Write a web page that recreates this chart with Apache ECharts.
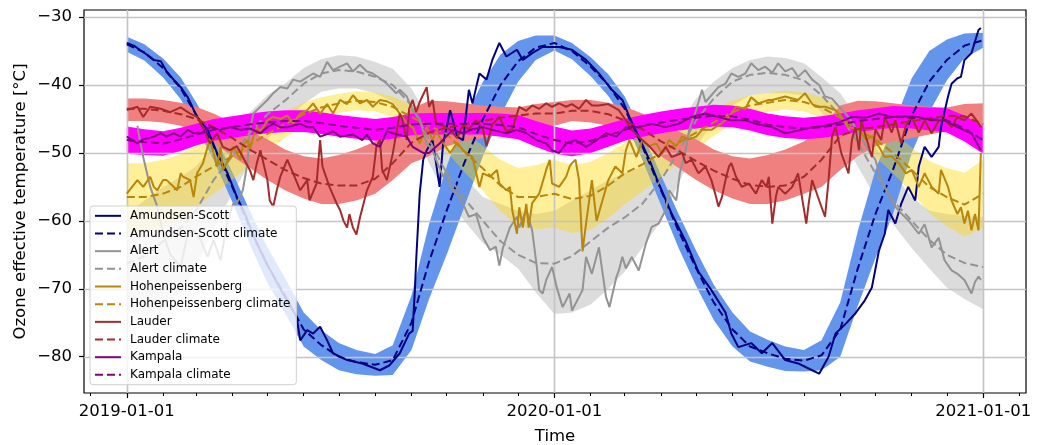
<!DOCTYPE html>
<html>
<head>
<meta charset="utf-8">
<script src="https://cdn.jsdelivr.net/npm/echarts@6/dist/echarts.min.js"></script>
<style>
  html, body { margin: 0; padding: 0; background: #fff; }
  #chart { width: 1037px; height: 445px; }
</style>
</head>
<body>
<div id="chart"></div>
<script>
// climate curves are read every half month; observations at their own days (days since 2019-01-01)
function monthDays(days) {
  const out = [];
  for (const y of [2019, 2020]) {
    for (let m = 1; m <= 12; m++) {
      for (const d of days) out.push(y + '-' + String(m).padStart(2, '0') + '-' + String(d).padStart(2, '0'));
    }
  }
  out.push('2021-01-01');
  return out;
}
const climDates = monthDays([1, 16]);
const yearTicks = ['2019-01-01', '2020-01-01', '2021-01-01'];
const yTicks = [-80, -70, -60, -50, -40, -30];

// Amundsen-Scott
const amundsenDays = [0, 6, 11, 17, 23, 29, 34, 40, 46, 52, 60, 69, 77, 86, 94, 101, 110, 120, 131, 145,
  148, 154, 159, 165, 171, 176, 188, 201, 216, 224, 233, 241, 244, 246, 247, 250, 253, 256, 261, 267,
  270, 276, 282, 287, 292, 295, 301, 307, 312, 318, 324, 333, 338, 346, 355, 363,
  369, 380, 392, 403, 414, 423, 429, 437, 446, 454, 465, 477, 488, 499, 511, 516, 522, 533, 542, 551,
  562, 573, 585, 591, 599, 605, 614, 622, 630, 636, 642, 647, 650, 656, 661, 667, 673, 676, 681, 687,
  693, 695, 701, 704, 709, 712, 715, 721, 727, 729];
const amundsenObs = [-33.8, -34.2, -34.8, -35.5, -36.3, -36.5, -38, -39.2, -40.3, -41.8, -44.7, -46.6, -50, -53, -56.5, -59, -63, -66.5, -70, -74.2,
  -77.6, -76.1, -76.6, -75.6, -77.6, -79.5, -80.5, -81, -82, -81.3, -79.5, -76.6, -76.2, -69.8, -65.8, -56, -51, -49.6, -48.1, -55,
  -48.6, -43.7, -47.6, -48.1, -40.7, -42.7, -38.3, -39.2, -36.3, -33.8, -35.8, -34.8, -36.3, -35.3, -34.4, -34.4,
  -34.4, -34.8, -36.3, -38.3, -40.7, -42.2, -44.7, -47.6, -51, -54.5, -58.9, -63, -67.5, -70.2, -73.5, -76.6, -78.6, -78, -79.5, -78,
  -80.5, -81, -82, -82.5, -80, -76.6, -75.1, -73.6, -71.7, -69.8, -64.4, -61.9, -58.4, -60.4, -57.5, -55, -57, -52, -49.1, -50.6,
  -49.1, -46.2, -41.7, -39.8, -39, -38.8, -36.3, -35.3, -31.9, -31.6];
const amundsenClim = [-34, -35.2, -37.5, -40.5, -44.3, -49, -55, -61, -66.5, -71, -76, -78.3, -80, -80.8, -81.2, -80.5, -75, -66, -58.5, -51.5, -45, -40, -36.5, -34.5,
  -33.8, -35, -37.3, -40, -43.5, -49, -55.5, -61.5, -67, -72, -76, -78.5, -79.5, -80.3, -80.6, -79.8, -76, -67, -59, -52.5, -44.5, -39.5, -36.3, -34.2,
  -33.4];
const amundsenHi = [-32.9, -34.0, -36.1, -38.9, -42.5, -47.0, -52.8, -58.5, -63.9, -68.4, -73.5, -76.1, -78.0, -79.0, -79.6, -78.3, -71.0, -60.5, -52.0, -45.0, -39.5, -35.5, -33.5, -32.7,
  -32.7, -33.8, -35.9, -38.4, -41.7, -47.0, -53.3, -59.0, -64.4, -69.4, -73.5, -76.3, -77.5, -78.5, -79.0, -77.6, -72.0, -61.5, -52.5, -46.0, -39.0, -35.0, -33.3, -32.4,
  -32.3];
const amundsenLo = [-35.1, -36.4, -38.9, -42.1, -46.1, -51.0, -57.2, -63.5, -69.1, -73.6, -78.5, -80.5, -82.0, -82.6, -82.8, -82.7, -79.0, -71.5, -65.0, -58.0, -50.5, -44.5, -39.5, -36.3,
  -34.9, -36.2, -38.7, -41.6, -45.3, -51.0, -57.7, -64.0, -69.6, -74.6, -78.5, -80.7, -81.5, -82.1, -82.2, -82.0, -80.0, -72.5, -65.5, -59.0, -50.0, -44.0, -39.3, -36.0,
  -34.5];

// Alert
const alertDays = [9, 11, 14, 20, 26, 31, 37, 46, 52, 57, 63, 69, 74, 80, 86, 91, 94, 99, 103, 105,
  108, 114, 120, 125, 131, 137, 142, 148, 159, 165, 171, 176, 182, 188, 193, 199, 205, 210, 216, 222,
  230, 233, 239, 244, 250, 256, 261, 264, 270, 273, 276, 282, 287, 292, 298, 304, 310, 315, 318, 321,
  327, 333, 335, 341, 346, 350, 352, 355, 358, 363,
  367, 372, 378, 380, 389, 392, 397, 403, 409, 412, 418, 420, 423, 426, 431, 437, 443, 448, 454, 460,
  463, 469, 472, 477, 480, 486, 491, 494, 499, 505, 511, 516, 522, 528, 533, 539, 545, 551, 556, 562,
  568, 573, 579, 585, 591, 596, 602, 608, 616, 625, 633, 639, 644, 650, 656, 661, 667, 676, 681, 687,
  693, 698, 704, 709, 715, 721, 724, 727, 729];
const alertObs = [-46, -48, -50.6, -55, -57.9, -61.9, -64.9, -66.8, -61.9, -61.4, -62.8, -65.3, -62.8, -65.8, -60, -57.4, -57.4, -55.5, -51.5, -46.6,
  -44.2, -43.2, -42.2, -41.2, -40.3, -40.5, -39.2, -39.5, -38.3, -38.8, -36.6, -37.8, -37.3, -36.8, -38, -37, -38, -38.3, -39, -39.8,
  -41.2, -40.7, -41.7, -43.7, -45, -48.6, -49.6, -51, -53.5, -52.5, -55, -56, -57.5, -59.4, -59, -62.4, -64.3, -63.8, -66.6, -64,
  -61, -59.4, -61, -58.4, -61.4, -66.8, -70.2, -70.7, -68.7, -66.8,
  -69.8, -72.7, -70.7, -73.2, -70.2, -65.3, -67.8, -63.9, -71.2, -72.7, -68.2, -67.3, -65.3, -67, -65.3, -67.3, -63.4, -60.9, -60.4, -58.4,
  -55.5, -57, -53, -49.6, -46.6, -43.7, -40.7, -42.5, -41.5, -40.3, -39.8, -38.3, -38.8, -38.3, -36.8, -37.8, -37.3, -38.2, -36.8, -38,
  -37.5, -38.8, -37.8, -39.2, -40, -41.7, -42, -43.2, -44.7, -47.1, -49.6, -51, -54, -56, -57.9, -58.9, -59.9, -61.9, -60.5, -63.9,
  -62.5, -65.8, -67.3, -67.8, -68.7, -70.7, -69, -68.2, -68.7];
const alertClim = [-66.3, -65.2, -63, -61, -58.5, -54, -50.5, -47, -44.3, -42.3, -39.8, -38.3, -37.8, -38, -38.8, -40, -43, -48, -53, -56.7, -60, -63, -65, -66.2,
  -66.3, -65.2, -63, -61, -59.5, -57.5, -54, -49.8, -45.2, -42, -39.5, -38.5, -38.2, -38.5, -39.3, -41.5, -44.5, -48.5, -53, -57, -60, -62.8, -65, -66.2,
  -66.8];
const alertHi = [-59, -57, -55, -53.5, -52, -49, -46.5, -44, -41.5, -39.8, -37.5, -36.2, -35.6, -35.8, -36.6, -37.6, -40.5, -45, -49.5, -53.5, -56.5, -57.5, -58.5, -59,
  -58.5, -57, -55.5, -54, -53, -52, -49.5, -46, -42, -39.5, -37.5, -36.3, -35.8, -36, -36.8, -38.8, -41.2, -45, -49, -53, -56.5, -58.5, -59, -59.3,
  -59.4];
const alertLo = [-73.5, -74, -72.5, -70.5, -67, -61, -56, -51.5, -48, -45.3, -42.8, -41, -40.5, -40.5, -41.2, -42.5, -46, -51.5, -56.5, -60, -63.3, -65, -67, -70.5,
  -73.7, -73.5, -72.3, -70, -67.5, -64, -60, -54.5, -49, -45.5, -43, -41.5, -41.2, -41.2, -41.5, -44, -47.5, -52, -56.5, -60.5, -64, -67, -69.8, -71.5,
  -73];

// Hohenpeissenberg
const hohenDays = [0, 9, 14, 20, 23, 26, 31, 34, 37, 43, 46, 48, 54, 57, 60, 65, 69, 71, 74, 77,
  80, 82, 88, 91, 97, 99, 103, 105, 108, 111, 114, 120, 125, 131, 137, 142, 148, 154, 159, 165,
  171, 176, 182, 188, 193, 199, 205, 210, 216, 222, 227, 233, 239, 244, 250, 256, 261, 264, 270, 276,
  282, 287, 290, 295, 301, 304, 310, 316, 318, 324, 327, 329, 333, 335, 338, 341, 343, 346, 352, 358,
  361, 363,
  369, 375, 378, 380, 383, 386, 389, 392, 397, 401, 406, 411, 417, 423, 426, 429, 435, 440, 446, 452,
  457, 463, 469, 474, 480, 486, 491, 499, 508, 514, 520, 528, 533, 539, 548, 551, 562, 573, 579, 585,
  588, 596, 605, 610, 616, 625, 631, 636, 642, 647, 653, 659, 665, 670, 676, 681, 687, 693, 695, 701,
  704, 709, 712, 715, 718, 721, 724, 727, 729];
const hohenObs = [-56, -54, -55, -53.5, -55, -55.5, -54, -54, -54.5, -55.5, -53, -53.5, -54, -56.5, -53, -51.5, -49.1, -48.1, -50, -52,
  -49.1, -52.5, -50.6, -49.1, -51, -49, -48.1, -49.5, -47.6, -46.2, -46.8, -45.2, -44.7, -45, -44.5, -45.6, -44.2, -43.7, -42.7, -44.2,
  -42.8, -44.2, -42.2, -42.8, -41.5, -42.7, -42.2, -43.2, -42.2, -42.4, -42.8, -44.2, -45.6, -46.2, -48.6, -46.2, -48.1, -46.8, -48.5, -50,
  -48.5, -49.6, -50, -50.6, -55, -53, -53.5, -52.5, -54.5, -55.5, -55, -58.4, -61.9, -58, -61, -57.5, -61, -57.4, -56, -52.5,
  -51, -54.5,
  -55, -53.5, -52, -51.5, -51, -54, -64.5, -60.4, -54, -60, -57, -54, -52, -53, -49.6, -48.1, -50.6, -48.1, -49, -48.6,
  -50.1, -48.1, -49, -47.6, -48, -47.6, -46.6, -46.6, -45.6, -44.7, -43.2, -43.5, -41.8, -42.7, -42.2, -42.2, -41.7, -42.2, -41.2, -42.8,
  -43.2, -43.2, -43.7, -44.7, -46.2, -46.5, -48.1, -47.5, -49.1, -50.6, -50.5, -51.5, -53, -52.5, -55, -53, -55, -56, -52.5, -55,
  -57, -59, -58, -60.4, -58.5, -61.4, -59, -61.4, -50];
const hohenClim = [-56.5, -56.5, -56, -55, -53.5, -52, -50.5, -48.8, -47.2, -45.8, -44.3, -43.3, -42.7, -42.3, -42.5, -43.2, -44.7, -46, -47.2, -49.8, -52.3, -54.8, -56.5, -56.5,
  -56, -56.8, -56.3, -54.8, -53, -51.7, -50, -48.5, -47, -45.5, -44, -43, -42.6, -42.2, -42.5, -43.3, -44.8, -46.6, -48, -50, -52.5, -55, -56.5, -57.6,
  -56];
const hohenHi = [-51.5, -51.5, -51, -50.2, -49, -48, -47, -45.8, -44.7, -43.8, -42.6, -41.8, -41.3, -40.9, -41.1, -41.7, -42.9, -43.8, -44.6, -46.8, -49, -51, -52.2, -51.8,
  -51, -51.8, -51.3, -50, -48.5, -47.7, -46.5, -45.5, -44.5, -43.5, -42.3, -41.5, -41.2, -40.8, -41.1, -41.8, -43, -44.4, -45.4, -47, -49.2, -51.2, -52.2, -52.9,
  -51];
const hohenLo = [-61.5, -61.5, -61, -59.8, -58, -56, -54, -51.8, -49.7, -47.8, -46, -44.8, -44.1, -43.7, -43.9, -44.7, -46.5, -48.2, -49.8, -52.8, -55.6, -58.6, -60.8, -61.2,
  -61, -61.8, -61.3, -59.6, -57.5, -55.7, -53.5, -51.5, -49.5, -47.5, -45.7, -44.5, -44, -43.6, -43.9, -44.8, -46.6, -48.8, -50.6, -53, -55.8, -58.8, -60.8, -62.3,
  -61];

// Lauder
const lauderDays = [0, 9, 14, 20, 29, 37, 46, 54, 60, 65, 71, 77, 82, 88, 94, 99, 105, 108, 111, 114,
  120, 122, 125, 128, 131, 137, 142, 148, 154, 156, 162, 165, 167, 173, 179, 182, 185, 188, 190, 193,
  196, 199, 205, 210, 213, 216, 218, 222, 227, 233, 235, 239, 241, 244, 247, 250, 256, 258, 261, 264,
  270, 276, 282, 287, 292, 298, 304, 307, 312, 318, 324, 329, 335, 341, 346, 352, 358, 363,
  369, 375, 380, 386, 392, 397, 403, 411, 420, 426, 431, 440, 446, 454, 460, 465, 474, 477, 482, 488,
  494, 499, 503, 505, 508, 511, 514, 516, 520, 525, 531, 537, 542, 546, 548, 551, 554, 556, 562, 568,
  573, 580, 582, 585, 591, 596, 599, 602, 605, 610, 614, 616, 619, 622, 625, 627, 630, 636, 639, 644,
  647, 653, 656, 661, 665, 670, 676, 681, 687, 693, 698, 704, 709, 715, 721, 727, 729];
const lauderObs = [-43.7, -43.2, -44.7, -43.2, -43.5, -44, -43.3, -44.2, -44.7, -46.2, -48.6, -47.1, -49.1, -49.6, -49, -50.6, -52.5, -54, -51.5, -49.6,
  -54, -57, -57.9, -55.5, -53.5, -51, -53, -55.5, -54, -57, -54.5, -48.1, -52, -55, -57.4, -58.4, -60, -61, -59, -61,
  -62, -59.5, -55.5, -53.5, -49.1, -48.1, -52.5, -54, -50.1, -44.2, -45, -48.1, -43.5, -42.2, -44, -42.5, -40.3, -43.2, -42.2, -45.7,
  -46, -46.6, -47.8, -45.8, -46.5, -45.2, -46.5, -49, -45.8, -44.7, -46.8, -46.5, -43.2, -43.8, -43, -43.5, -42.7, -43.2,
  -42.7, -43.2, -42.8, -43.5, -42.2, -43, -43, -42.8, -43.7, -45.2, -46.6, -48.1, -49, -50.6, -49.1, -50.6, -50, -51.5, -51, -53,
  -52, -54, -56.5, -57.9, -56.5, -54, -52, -51.5, -53.5, -55, -54.5, -56, -54, -55, -53.5, -60.4, -56.5, -55, -56, -55,
  -53, -60.4, -57.5, -54, -57, -59.4, -54, -47.6, -46.2, -50.1, -52, -53, -48, -46.2, -49.6, -45.2, -47.1, -50.6, -46.5, -48.1,
  -44.7, -47, -45.2, -48.6, -46, -44.7, -47, -45.2, -47.1, -45.3, -45, -46.2, -44.7, -45.2, -44.2, -45.6, -46.2];
const lauderClim = [-43.5, -43.5, -43.8, -44.3, -45, -46.2, -47.8, -49.5, -51, -52.5, -53.7, -54.5, -54.8, -54.8, -53.8, -51.5, -48.5, -47, -46.3, -45.8, -45.3, -44.8, -44.5, -44.2,
  -44.2, -43.8, -43.8, -44.3, -45.2, -46.5, -48.3, -49.7, -51.2, -52.6, -53.8, -54.7, -55, -54.8, -53.5, -51, -47.5, -46.5, -46.2, -45.8, -45.3, -44.9, -44.5, -44.6,
  -45.8];
const lauderHi = [-42, -42, -42.2, -42.6, -43.2, -44.2, -45.5, -46.8, -48, -49.5, -50.5, -50.8, -50.3, -49.5, -48.3, -46, -43.5, -42.3, -42.4, -42.7, -43, -43.2, -43.3, -42.8,
  -42.5, -42.2, -42.2, -42.6, -43.2, -44.2, -45.5, -46.8, -48, -49.5, -50.5, -50.8, -50.3, -49.5, -48.3, -46.5, -43, -42.3, -42.4, -42.7, -43, -43.2, -43.3, -42.8,
  -42.7];
const lauderLo = [-45.3, -45.3, -45.5, -46, -47, -48.5, -50.5, -52.2, -54, -55.5, -56.7, -57.5, -57.5, -57, -56, -54, -51.5, -50.5, -49, -48.3, -47.8, -47.3, -46.8, -46.3,
  -46, -45.3, -45.5, -46, -47, -48.5, -50.5, -52.2, -54, -55.5, -56.7, -57.5, -57.5, -57, -56, -55, -52.5, -50.5, -49, -48.3, -47.8, -47.3, -46.8, -46.3,
  -46.5];

// Kampala
const kampalaDays = [0, 9, 14, 23, 29, 34, 40, 46, 52, 57, 63, 71, 80, 88, 97, 105, 114, 120, 125, 131,
  137, 148, 154, 159, 165, 173, 176, 182, 193, 201, 205, 210, 216, 222, 227, 239, 244, 253, 258, 267,
  278, 287, 295, 304, 312, 324, 333, 341, 350, 358, 363,
  369, 375, 383, 392, 401, 409, 418, 426, 437, 448, 460, 471, 482, 494, 505, 516, 528, 539, 551, 562,
  573, 585, 596, 608, 619, 631, 642, 653, 665, 676, 687, 698, 709, 721, 729];
const kampalaObs = [-47.6, -48.6, -48, -47.6, -47.1, -47.6, -47.1, -47.6, -46.6, -47.1, -47.1, -46.2, -46.6, -46.2, -46.6, -46.4, -47.1, -46.2, -45.7, -46.2,
  -46.2, -45.7, -46.2, -46.2, -47.6, -47.1, -46.8, -47.6, -47.3, -48.1, -47.3, -48.6, -49.1, -46.8, -47.1, -47.6, -49.1, -50, -50, -48.6,
  -46.6, -47.1, -46.5, -46.2, -46.6, -47.1, -46.6, -47.1, -48.1, -48.6, -49.6,
  -50, -48.6, -48.1, -49.1, -48.1, -47.1, -47.6, -46.2, -46.2, -45.7, -46.2, -45.7, -44.7, -44.2, -44.7, -45.2, -45.2, -45.8, -46.2, -47.1,
  -46.7, -46.2, -46, -45.5, -44.7, -44.8, -44.2, -44.7, -44.6, -44.7, -45.2, -45.2, -46.2, -47.1, -49.6];
const kampalaClim = [-48.1, -48.4, -48.6, -48, -47.3, -46.6, -46.2, -45.8, -45.5, -45.3, -45.3, -45.6, -46, -46.3, -46.6, -46.3, -45.8, -45.7, -45.7, -45.7, -45.7, -45.9, -46.2, -47.2,
  -48.1, -48.6, -48.2, -47.4, -46.6, -46, -45.5, -45.1, -44.8, -44.5, -44.6, -45.1, -45.8, -46.2, -46.4, -46.2, -45.8, -45.3, -45, -44.7, -44.8, -45, -45.2, -46.4,
  -48.1];
const kampalaHi = [-46.1, -46.5, -46.8, -46.3, -45.7, -45, -44.6, -44.2, -43.9, -43.7, -43.7, -44, -44.4, -44.7, -45, -44.7, -44.2, -44.1, -44.1, -44.1, -44.1, -44.2, -44.4, -45.3,
  -46.1, -46.7, -46.4, -45.7, -45, -44.4, -43.9, -43.5, -43.2, -42.9, -43, -43.5, -44.2, -44.6, -44.8, -44.6, -44.2, -43.7, -43.4, -43.1, -43.2, -43.3, -43.4, -44.5,
  -46.1];
const kampalaLo = [-50.1, -50.3, -50.4, -49.7, -48.9, -48.2, -47.8, -47.4, -47.1, -46.9, -46.9, -47.2, -47.6, -47.9, -48.2, -47.9, -47.4, -47.3, -47.3, -47.3, -47.3, -47.6, -48, -49.1,
  -50.1, -50.5, -50, -49.1, -48.2, -47.6, -47.1, -46.7, -46.4, -46.1, -46.2, -46.7, -47.4, -47.8, -48, -47.8, -47.4, -46.9, -46.6, -46.3, -46.4, -46.7, -47, -48.3,
  -50.1];

const stations = [
  { name: 'Amundsen-Scott', color: '#000080', band: '#6495ed', bandOpacity: 1, days: amundsenDays, obs: amundsenObs, clim: amundsenClim, lo: amundsenLo, hi: amundsenHi },
  { name: 'Alert', color: '#939393', band: '#d3d3d3', bandOpacity: 0.8, days: alertDays, obs: alertObs, clim: alertClim, lo: alertLo, hi: alertHi },
  { name: 'Hohenpeissenberg', color: '#b8860b', band: '#ffd700', bandOpacity: 0.4, days: hohenDays, obs: hohenObs, clim: hohenClim, lo: hohenLo, hi: hohenHi },
  { name: 'Lauder', color: '#a52a2a', band: '#f08080', bandOpacity: 1, days: lauderDays, obs: lauderObs, clim: lauderClim, lo: lauderLo, hi: lauderHi },
  { name: 'Kampala', color: '#800080', band: '#ff00ff', bandOpacity: 1, days: kampalaDays, obs: kampalaObs, clim: kampalaClim, lo: kampalaLo, hi: kampalaHi },
];
// the blue band sits over the grey one, the others are stacked in legend order
const bandOrder = ['Alert', 'Amundsen-Scott', 'Hohenpeissenberg', 'Lauder', 'Kampala'];

// dates become millisecond numbers on a plain value axis
const ts = (s) => new Date(s + 'T00:00:00').getTime();
const DAY = 864e5;
const t0 = ts('2019-01-01');
const xMin = t0 - 36.55 * DAY;
const xMax = ts('2021-01-01') + 36.55 * DAY;
const monthTicks = [];
for (let y = 2018; y <= 2021; y++) {
  for (let m = 1; m <= 12; m++) {
    const t = ts(y + '-' + String(m).padStart(2, '0') + '-01');
    if (t > xMin && t < xMax) monthTicks.push(t);
  }
}
const pad = (n) => String(n).padStart(2, '0');
const font = 'DejaVu Sans';

const series = [];

// climate spread bands
bandOrder.forEach((name) => {
  const st = stations.find((s) => s.name === name);
  series.push({
    type: 'custom', silent: true, z: 1, animation: false,
    data: [[ts(climDates[0]), st.clim[0]]],
    renderItem(params, api) {
      const upper = climDates.map((d, i) => api.coord([ts(d), st.hi[i]]));
      const lower = climDates.map((d, i) => api.coord([ts(d), st.lo[i]])).reverse();
      return { type: 'polygon', shape: { points: upper.concat(lower) }, style: { fill: st.band, opacity: st.bandOpacity } };
    },
  });
});

// grid lines: above the bands, below the lines (matplotlib default)
series.push({
  type: 'custom', silent: true, z: 2, animation: false,
  data: [[ts('2020-01-01'), -50]],
  renderItem(params, api) {
    const cs = params.coordSys;
    const children = [];
    yTicks.forEach((v) => {
      const y = Math.round(api.coord([ts('2020-01-01'), v])[1]) + 0.5;
      children.push({ type: 'line', shape: { x1: cs.x, y1: y, x2: cs.x + cs.width, y2: y }, style: { stroke: '#c4c4c4', lineWidth: 1.6 } });
    });
    yearTicks.forEach((d) => {
      const x = Math.round(api.coord([ts(d), -50])[0]) + 0.5;
      children.push({ type: 'line', shape: { x1: x, y1: cs.y, x2: x, y2: cs.y + cs.height }, style: { stroke: '#c4c4c4', lineWidth: 1.6 } });
    });
    return { type: 'group', children };
  },
});

// observed and climate lines
const legendNames = [];
stations.forEach((st) => {
  legendNames.push(st.name, st.name + ' climate');
  series.push({
    name: st.name, type: 'line', z: 3, symbol: 'none', showSymbol: false, animation: false,
    data: st.days.map((d, i) => [t0 + d * DAY, st.obs[i]]),
    lineStyle: { color: st.color, width: 2 }, itemStyle: { color: st.color },
  });
  series.push({
    name: st.name + ' climate', type: 'line', z: 3, symbol: 'none', showSymbol: false, animation: false,
    data: climDates.map((d, i) => [ts(d), st.clim[i]]),
    lineStyle: { color: st.color, width: 2, type: [8, 4] }, itemStyle: { color: st.color },
  });
});

const chart = echarts.init(document.getElementById('chart'), null, { renderer: 'canvas' });
chart.setOption({
  animation: false,
  textStyle: { fontFamily: font },
  grid: {
    left: 84, right: 11, top: 10, bottom: 52, outerBoundsMode: 'none',
    show: true, borderColor: '#000', borderWidth: 1.2, backgroundColor: 'transparent',
  },
  legend: {
    data: legendNames, orient: 'vertical', left: 90, top: 206,
    itemWidth: 26, itemHeight: 12, itemGap: 0,
    padding: [1, 6, 1, 4],
    backgroundColor: 'rgba(255,255,255,0.8)', borderColor: '#d0d0d0', borderWidth: 1, borderRadius: 3,
    itemStyle: { opacity: 0 },
    textStyle: { fontSize: 12, lineHeight: 17.67, color: '#000', fontFamily: font, padding: [0, 0, 0, 4] },
    selectedMode: false,
  },
  xAxis: [{
    type: 'value', min: xMin, max: xMax,
    axisLine: { show: false }, splitLine: { show: false },
    axisTick: { show: true, customValues: yearTicks.map(ts), length: 5, lineStyle: { color: '#000', width: 1.2 } },
    axisLabel: {
      customValues: yearTicks.map(ts), margin: 10, fontSize: 16.5, color: '#000', fontFamily: font,
      formatter: (v) => { const d = new Date(v); return d.getFullYear() + '-' + pad(d.getMonth() + 1) + '-' + pad(d.getDate()); },
    },
    name: 'Time', nameLocation: 'middle', nameGap: 35, nameMoveOverlap: false,
    nameTextStyle: { fontSize: 16.5, color: '#000', fontFamily: font },
  }, {
    type: 'value', min: xMin, max: xMax, position: 'bottom',
    axisLine: { show: false }, splitLine: { show: false }, axisLabel: { show: false },
    axisTick: { show: true, customValues: monthTicks, length: 3, lineStyle: { color: '#000', width: 1 } },
  }],
  yAxis: {
    type: 'value', min: -85.35, max: -28.95,
    axisLine: { show: false }, splitLine: { show: false },
    axisTick: { show: true, customValues: yTicks, length: 5, lineStyle: { color: '#000', width: 1.2 } },
    axisLabel: {
      customValues: yTicks, margin: 12, fontSize: 16.5, color: '#000', fontFamily: font,
      formatter: (v) => (v < 0 ? '\u2212' + Math.abs(v) : String(v)),
    },
    name: 'Ozone effective temperature [°C]', nameLocation: 'middle', nameGap: 55, nameMoveOverlap: false,
    nameTextStyle: { fontSize: 16.5, color: '#000', fontFamily: font },
  },
  series,
});
</script>
</body>
</html>
